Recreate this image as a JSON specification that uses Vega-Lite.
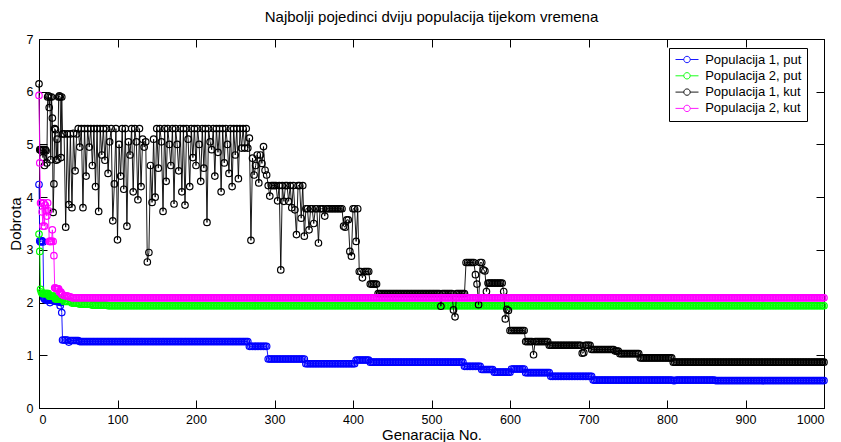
{
"$schema": "https://vega.github.io/schema/vega-lite/v6.json",
"width": 785, "height": 369,
"autosize": {"type": "none"},
"padding": {"left": 39, "top": 39, "right": 17, "bottom": 34},
"background": "white",
"title": {"text": "Najbolji pojedinci dviju populacija tijekom vremena", "fontSize": 15, "fontWeight": "normal", "font": "Liberation Sans", "color": "black", "anchor": "middle", "baseline": "alphabetic", "offset": -4},
"config": {
  "font": "Liberation Sans",
  "view": {"stroke": "black", "strokeWidth": 1},
  "axis": {"grid": false, "domainColor": "black", "tickColor": "black", "labelColor": "black", "titleColor": "black", "labelFontSize": 12.5, "titleFontSize": 15, "titleFontWeight": "normal", "tickSize": -8, "domainWidth": 1, "tickWidth": 1, "labelFont": "Liberation Sans", "titleFont": "Liberation Sans"}
},
"datasets": {
"blue": [{"g":0,"v":4.24},{"g":1,"v":3.17},{"g":2,"v":3.15},{"g":3,"v":3.17},{"g":4,"v":3.17},{"g":5,"v":3.15},{"g":6,"v":2.09},{"g":7,"v":2.07},{"g":8,"v":2.06},{"g":9,"v":2.05},{"g":10,"v":2.05},{"g":11,"v":2.05},{"g":12,"v":2.05},{"g":13,"v":2.05},{"g":14,"v":2.0},{"g":15,"v":2.05},{"g":16,"v":2.05},{"g":17,"v":2.05},{"g":18,"v":2.04},{"g":19,"v":2.03},{"g":20,"v":2.03},{"g":21,"v":2.03},{"g":22,"v":2.02},{"g":23,"v":2.02},{"g":24,"v":2.02},{"g":25,"v":2.02},{"g":26,"v":2.01},{"g":27,"v":1.94},{"g":28,"v":2.0},{"g":29,"v":1.81},{"g":30,"v":1.29},
{"g":32,"v":1.29},{"g":34,"v":1.29},{"g":36,"v":1.29},{"g":38,"v":1.25},{"g":40,"v":1.28},{"g":42,"v":1.28},{"g":44,"v":1.28},{"g":46,"v":1.28},{"g":48,"v":1.28},{"g":50,"v":1.28},
{"g":52,"v":1.26},{"g":54,"v":1.26},{"g":56,"v":1.26},{"g":58,"v":1.26},{"g":60,"v":1.26},{"g":62,"v":1.26},{"g":64,"v":1.26},{"g":66,"v":1.26},{"g":68,"v":1.26},{"g":70,"v":1.26},{"g":72,"v":1.26},{"g":74,"v":1.26},{"g":76,"v":1.26},{"g":78,"v":1.26},{"g":80,"v":1.26},{"g":82,"v":1.26},{"g":84,"v":1.26},{"g":86,"v":1.26},{"g":88,"v":1.26},{"g":90,"v":1.26},{"g":92,"v":1.26},{"g":94,"v":1.26},{"g":96,"v":1.26},{"g":98,"v":1.26},{"g":100,"v":1.26},{"g":102,"v":1.26},{"g":104,"v":1.26},{"g":106,"v":1.26},{"g":108,"v":1.26},{"g":110,"v":1.26},{"g":112,"v":1.26},{"g":114,"v":1.26},{"g":116,"v":1.26},{"g":118,"v":1.26},{"g":120,"v":1.26},{"g":122,"v":1.26},{"g":124,"v":1.26},{"g":126,"v":1.26},{"g":128,"v":1.26},{"g":130,"v":1.26},{"g":132,"v":1.26},{"g":134,"v":1.26},{"g":136,"v":1.26},{"g":138,"v":1.26},{"g":140,"v":1.26},{"g":142,"v":1.26},{"g":144,"v":1.26},{"g":146,"v":1.26},{"g":148,"v":1.26},{"g":150,"v":1.26},{"g":152,"v":1.26},{"g":154,"v":1.26},{"g":156,"v":1.26},{"g":158,"v":1.26},{"g":160,"v":1.26},{"g":162,"v":1.26},{"g":164,"v":1.26},{"g":166,"v":1.26},{"g":168,"v":1.26},{"g":170,"v":1.26},{"g":172,"v":1.26},{"g":174,"v":1.26},{"g":176,"v":1.26},{"g":178,"v":1.26},{"g":180,"v":1.26},{"g":182,"v":1.26},{"g":184,"v":1.26},{"g":186,"v":1.26},{"g":188,"v":1.26},{"g":190,"v":1.26},{"g":192,"v":1.26},{"g":194,"v":1.26},{"g":196,"v":1.26},{"g":198,"v":1.26},{"g":200,"v":1.26},{"g":202,"v":1.26},{"g":204,"v":1.26},{"g":206,"v":1.26},{"g":208,"v":1.26},{"g":210,"v":1.26},{"g":212,"v":1.26},{"g":214,"v":1.26},{"g":216,"v":1.26},{"g":218,"v":1.26},{"g":220,"v":1.26},{"g":222,"v":1.26},{"g":224,"v":1.26},{"g":226,"v":1.26},{"g":228,"v":1.26},{"g":230,"v":1.26},{"g":232,"v":1.26},{"g":234,"v":1.26},{"g":236,"v":1.26},{"g":238,"v":1.26},{"g":240,"v":1.26},{"g":242,"v":1.26},{"g":244,"v":1.26},{"g":246,"v":1.26},{"g":248,"v":1.26},{"g":250,"v":1.26},{"g":252,"v":1.26},{"g":254,"v":1.26},{"g":256,"v":1.26},{"g":258,"v":1.26},{"g":260,"v":1.26},{"g":262,"v":1.26},{"g":264,"v":1.26},{"g":266,"v":1.26},
{"g":268,"v":1.17},{"g":270,"v":1.17},{"g":272,"v":1.17},{"g":274,"v":1.17},{"g":276,"v":1.17},{"g":278,"v":1.17},{"g":280,"v":1.17},{"g":282,"v":1.17},{"g":284,"v":1.17},{"g":286,"v":1.17},{"g":288,"v":1.17},{"g":290,"v":1.17},
{"g":292,"v":0.93},{"g":294,"v":0.93},{"g":296,"v":0.93},{"g":298,"v":0.93},{"g":300,"v":0.93},{"g":302,"v":0.93},{"g":304,"v":0.93},{"g":306,"v":0.93},{"g":308,"v":0.93},{"g":310,"v":0.93},{"g":312,"v":0.93},{"g":314,"v":0.93},{"g":316,"v":0.93},{"g":318,"v":0.93},{"g":320,"v":0.93},{"g":322,"v":0.93},{"g":324,"v":0.93},{"g":326,"v":0.93},{"g":328,"v":0.93},{"g":330,"v":0.93},{"g":332,"v":0.93},{"g":334,"v":0.93},{"g":336,"v":0.93},{"g":338,"v":0.93},
{"g":340,"v":0.84},{"g":342,"v":0.84},{"g":344,"v":0.84},{"g":346,"v":0.84},{"g":348,"v":0.84},{"g":350,"v":0.84},{"g":352,"v":0.84},{"g":354,"v":0.84},{"g":356,"v":0.84},{"g":358,"v":0.84},{"g":360,"v":0.84},{"g":362,"v":0.84},{"g":364,"v":0.84},{"g":366,"v":0.84},{"g":368,"v":0.84},{"g":370,"v":0.84},{"g":372,"v":0.84},{"g":374,"v":0.84},{"g":376,"v":0.84},{"g":378,"v":0.84},{"g":380,"v":0.84},{"g":382,"v":0.84},{"g":384,"v":0.84},{"g":386,"v":0.84},{"g":388,"v":0.84},{"g":390,"v":0.84},{"g":392,"v":0.84},{"g":394,"v":0.84},{"g":396,"v":0.84},{"g":398,"v":0.84},{"g":400,"v":0.84},{"g":402,"v":0.84},
{"g":404,"v":0.91},{"g":406,"v":0.91},{"g":408,"v":0.91},{"g":410,"v":0.91},{"g":412,"v":0.91},{"g":414,"v":0.91},{"g":416,"v":0.91},{"g":418,"v":0.91},{"g":420,"v":0.91},
{"g":422,"v":0.87},{"g":424,"v":0.87},{"g":426,"v":0.87},{"g":428,"v":0.87},{"g":430,"v":0.87},{"g":432,"v":0.87},{"g":434,"v":0.87},{"g":436,"v":0.87},{"g":438,"v":0.87},{"g":440,"v":0.87},{"g":442,"v":0.87},{"g":444,"v":0.87},{"g":446,"v":0.87},{"g":448,"v":0.87},{"g":450,"v":0.87},{"g":452,"v":0.87},{"g":454,"v":0.87},{"g":456,"v":0.87},{"g":458,"v":0.87},{"g":460,"v":0.87},{"g":462,"v":0.87},{"g":464,"v":0.87},{"g":466,"v":0.87},{"g":468,"v":0.87},{"g":470,"v":0.87},{"g":472,"v":0.87},{"g":474,"v":0.87},{"g":476,"v":0.87},{"g":478,"v":0.87},{"g":480,"v":0.87},{"g":482,"v":0.87},{"g":484,"v":0.87},{"g":486,"v":0.87},{"g":488,"v":0.87},{"g":490,"v":0.87},{"g":492,"v":0.87},{"g":494,"v":0.87},{"g":496,"v":0.87},{"g":498,"v":0.87},{"g":500,"v":0.87},{"g":502,"v":0.87},{"g":504,"v":0.87},{"g":506,"v":0.87},{"g":508,"v":0.87},{"g":510,"v":0.87},{"g":512,"v":0.87},{"g":514,"v":0.87},{"g":516,"v":0.87},{"g":518,"v":0.87},{"g":520,"v":0.87},{"g":522,"v":0.87},{"g":524,"v":0.87},{"g":526,"v":0.87},{"g":528,"v":0.87},{"g":530,"v":0.87},{"g":532,"v":0.87},{"g":534,"v":0.87},{"g":536,"v":0.87},{"g":538,"v":0.87},{"g":540,"v":0.87},
{"g":542,"v":0.79},{"g":544,"v":0.79},{"g":546,"v":0.79},{"g":548,"v":0.79},{"g":550,"v":0.79},{"g":552,"v":0.79},{"g":554,"v":0.79},{"g":556,"v":0.79},{"g":558,"v":0.79},{"g":560,"v":0.79},{"g":562,"v":0.79},
{"g":564,"v":0.73},{"g":566,"v":0.73},{"g":568,"v":0.73},{"g":570,"v":0.73},{"g":572,"v":0.73},{"g":574,"v":0.73},{"g":576,"v":0.73},{"g":578,"v":0.73},
{"g":580,"v":0.68},{"g":582,"v":0.68},{"g":584,"v":0.68},{"g":586,"v":0.68},{"g":588,"v":0.68},{"g":590,"v":0.68},{"g":592,"v":0.68},{"g":594,"v":0.68},{"g":596,"v":0.68},{"g":598,"v":0.68},{"g":600,"v":0.68},
{"g":602,"v":0.74},{"g":604,"v":0.74},{"g":606,"v":0.74},{"g":608,"v":0.74},{"g":610,"v":0.74},{"g":612,"v":0.74},{"g":614,"v":0.74},{"g":616,"v":0.74},{"g":618,"v":0.74},
{"g":620,"v":0.67},{"g":622,"v":0.67},{"g":624,"v":0.67},{"g":626,"v":0.67},{"g":628,"v":0.67},{"g":630,"v":0.67},{"g":632,"v":0.67},{"g":634,"v":0.67},{"g":636,"v":0.67},{"g":638,"v":0.67},{"g":640,"v":0.67},{"g":642,"v":0.67},{"g":644,"v":0.67},{"g":646,"v":0.67},{"g":648,"v":0.67},{"g":650,"v":0.67},
{"g":652,"v":0.6},{"g":654,"v":0.6},{"g":656,"v":0.6},{"g":658,"v":0.6},{"g":660,"v":0.6},{"g":662,"v":0.6},{"g":664,"v":0.6},{"g":666,"v":0.6},{"g":668,"v":0.6},{"g":670,"v":0.6},{"g":672,"v":0.6},{"g":674,"v":0.6},{"g":676,"v":0.6},{"g":678,"v":0.6},{"g":680,"v":0.6},{"g":682,"v":0.6},{"g":684,"v":0.6},{"g":686,"v":0.6},{"g":688,"v":0.6},{"g":690,"v":0.6},{"g":692,"v":0.6},{"g":694,"v":0.6},{"g":696,"v":0.6},{"g":698,"v":0.6},{"g":700,"v":0.6},{"g":702,"v":0.6},{"g":704,"v":0.6},
{"g":706,"v":0.53},{"g":708,"v":0.53},{"g":710,"v":0.53},{"g":712,"v":0.53},{"g":714,"v":0.53},{"g":716,"v":0.53},{"g":718,"v":0.53},{"g":720,"v":0.53},{"g":722,"v":0.53},{"g":724,"v":0.53},{"g":726,"v":0.53},{"g":728,"v":0.53},{"g":730,"v":0.53},{"g":732,"v":0.53},{"g":734,"v":0.53},{"g":736,"v":0.53},{"g":738,"v":0.53},{"g":740,"v":0.53},{"g":742,"v":0.53},{"g":744,"v":0.53},{"g":746,"v":0.53},{"g":748,"v":0.53},{"g":750,"v":0.53},{"g":752,"v":0.53},{"g":754,"v":0.53},{"g":756,"v":0.53},{"g":758,"v":0.53},{"g":760,"v":0.53},{"g":762,"v":0.53},{"g":764,"v":0.53},{"g":766,"v":0.53},{"g":768,"v":0.53},{"g":770,"v":0.53},{"g":772,"v":0.53},{"g":774,"v":0.53},{"g":776,"v":0.53},{"g":778,"v":0.53},{"g":780,"v":0.53},{"g":782,"v":0.53},{"g":784,"v":0.53},{"g":786,"v":0.53},{"g":788,"v":0.53},{"g":790,"v":0.53},{"g":792,"v":0.53},{"g":794,"v":0.53},{"g":796,"v":0.53},{"g":798,"v":0.53},{"g":800,"v":0.53},{"g":802,"v":0.53},{"g":804,"v":0.53},{"g":806,"v":0.53},{"g":808,"v":0.52},{"g":810,"v":0.52},{"g":812,"v":0.53},{"g":814,"v":0.53},{"g":816,"v":0.53},{"g":818,"v":0.53},{"g":820,"v":0.53},{"g":822,"v":0.53},{"g":824,"v":0.53},{"g":826,"v":0.53},{"g":828,"v":0.53},{"g":830,"v":0.53},{"g":832,"v":0.53},{"g":834,"v":0.53},{"g":836,"v":0.53},{"g":838,"v":0.53},{"g":840,"v":0.53},{"g":842,"v":0.53},{"g":844,"v":0.53},{"g":846,"v":0.53},{"g":848,"v":0.53},{"g":850,"v":0.53},{"g":852,"v":0.53},{"g":854,"v":0.53},{"g":856,"v":0.53},{"g":858,"v":0.53},{"g":860,"v":0.53},
{"g":862,"v":0.52},{"g":864,"v":0.52},{"g":866,"v":0.52},{"g":868,"v":0.52},{"g":870,"v":0.52},{"g":872,"v":0.52},{"g":874,"v":0.52},{"g":876,"v":0.52},{"g":878,"v":0.52},{"g":880,"v":0.52},{"g":882,"v":0.52},{"g":884,"v":0.52},{"g":886,"v":0.52},{"g":888,"v":0.52},{"g":890,"v":0.52},{"g":892,"v":0.52},{"g":894,"v":0.52},{"g":896,"v":0.52},{"g":898,"v":0.52},{"g":900,"v":0.52},{"g":902,"v":0.52},{"g":904,"v":0.52},{"g":906,"v":0.52},{"g":908,"v":0.52},{"g":910,"v":0.52},{"g":912,"v":0.52},{"g":914,"v":0.52},{"g":916,"v":0.52},{"g":918,"v":0.52},{"g":920,"v":0.52},{"g":922,"v":0.52},{"g":924,"v":0.52},{"g":926,"v":0.52},{"g":928,"v":0.52},{"g":930,"v":0.52},{"g":932,"v":0.52},{"g":934,"v":0.52},{"g":936,"v":0.52},{"g":938,"v":0.52},{"g":940,"v":0.52},{"g":942,"v":0.52},{"g":944,"v":0.52},{"g":946,"v":0.52},{"g":948,"v":0.52},{"g":950,"v":0.52},{"g":952,"v":0.52},{"g":954,"v":0.52},{"g":956,"v":0.52},{"g":958,"v":0.52},{"g":960,"v":0.52},{"g":962,"v":0.52},{"g":964,"v":0.52},{"g":966,"v":0.52},{"g":968,"v":0.52},{"g":970,"v":0.52},{"g":972,"v":0.52},{"g":974,"v":0.52},{"g":976,"v":0.52},{"g":978,"v":0.52},{"g":980,"v":0.52},{"g":982,"v":0.52},{"g":984,"v":0.52},{"g":986,"v":0.52},{"g":988,"v":0.52},{"g":990,"v":0.52},{"g":992,"v":0.52},{"g":994,"v":0.52},{"g":996,"v":0.52},{"g":998,"v":0.52},{"g":1000,"v":0.52}],
"green": [{"g":0,"v":3.3},{"g":1,"v":2.97},{"g":2,"v":2.25},{"g":3,"v":2.2},{"g":4,"v":2.17},{"g":5,"v":2.17},{"g":6,"v":2.17},{"g":7,"v":2.17},{"g":8,"v":2.17},{"g":9,"v":2.17},{"g":10,"v":2.17},{"g":11,"v":2.17},{"g":12,"v":2.17},{"g":13,"v":2.12},{"g":14,"v":2.12},{"g":15,"v":2.12},{"g":16,"v":2.12},{"g":17,"v":2.12},{"g":18,"v":2.12},{"g":19,"v":2.12},{"g":20,"v":2.12},{"g":21,"v":2.07},{"g":22,"v":2.07},{"g":23,"v":2.07},{"g":24,"v":2.07},{"g":25,"v":2.07},{"g":26,"v":2.07},{"g":27,"v":2.07},{"g":28,"v":2.07},{"g":29,"v":2.07},{"g":30,"v":2.07},
{"g":32,"v":2.02},{"g":34,"v":2.02},{"g":36,"v":2.02},{"g":38,"v":2.02},{"g":40,"v":2.02},{"g":42,"v":1.99},{"g":44,"v":1.99},{"g":46,"v":1.99},{"g":48,"v":1.99},{"g":50,"v":1.99},{"g":52,"v":1.97},{"g":54,"v":1.97},{"g":56,"v":1.97},{"g":58,"v":1.97},{"g":60,"v":1.97},{"g":62,"v":1.97},{"g":64,"v":1.97},{"g":66,"v":1.97},{"g":68,"v":1.95},{"g":70,"v":1.95},{"g":72,"v":1.95},{"g":74,"v":1.95},{"g":76,"v":1.95},{"g":78,"v":1.95},{"g":80,"v":1.95},{"g":82,"v":1.95},{"g":84,"v":1.95},{"g":86,"v":1.95},
{"g":88,"v":1.94},{"g":90,"v":1.94},{"g":92,"v":1.94},{"g":94,"v":1.94},{"g":96,"v":1.94},{"g":98,"v":1.94},{"g":100,"v":1.94},{"g":102,"v":1.94},{"g":104,"v":1.94},{"g":106,"v":1.94},{"g":108,"v":1.94},{"g":110,"v":1.94},{"g":112,"v":1.94},{"g":114,"v":1.94},{"g":116,"v":1.94},{"g":118,"v":1.94},{"g":120,"v":1.94},{"g":122,"v":1.94},{"g":124,"v":1.94},{"g":126,"v":1.94},{"g":128,"v":1.94},{"g":130,"v":1.94},{"g":132,"v":1.94},{"g":134,"v":1.94},{"g":136,"v":1.94},{"g":138,"v":1.94},{"g":140,"v":1.94},{"g":142,"v":1.94},{"g":144,"v":1.94},{"g":146,"v":1.94},{"g":148,"v":1.94},{"g":150,"v":1.94},{"g":152,"v":1.94},{"g":154,"v":1.94},{"g":156,"v":1.94},{"g":158,"v":1.94},{"g":160,"v":1.94},{"g":162,"v":1.94},{"g":164,"v":1.94},{"g":166,"v":1.94},{"g":168,"v":1.94},{"g":170,"v":1.94},{"g":172,"v":1.94},{"g":174,"v":1.94},{"g":176,"v":1.94},{"g":178,"v":1.94},{"g":180,"v":1.94},{"g":182,"v":1.94},{"g":184,"v":1.94},{"g":186,"v":1.94},{"g":188,"v":1.94},{"g":190,"v":1.94},{"g":192,"v":1.94},{"g":194,"v":1.94},{"g":196,"v":1.94},{"g":198,"v":1.94},{"g":200,"v":1.94},{"g":202,"v":1.94},{"g":204,"v":1.94},{"g":206,"v":1.94},{"g":208,"v":1.94},{"g":210,"v":1.94},{"g":212,"v":1.94},{"g":214,"v":1.94},{"g":216,"v":1.94},{"g":218,"v":1.94},{"g":220,"v":1.94},{"g":222,"v":1.94},{"g":224,"v":1.94},{"g":226,"v":1.94},{"g":228,"v":1.94},{"g":230,"v":1.94},{"g":232,"v":1.94},{"g":234,"v":1.94},{"g":236,"v":1.94},{"g":238,"v":1.94},{"g":240,"v":1.94},{"g":242,"v":1.94},{"g":244,"v":1.94},{"g":246,"v":1.94},{"g":248,"v":1.94},{"g":250,"v":1.94},{"g":252,"v":1.94},{"g":254,"v":1.94},{"g":256,"v":1.94},{"g":258,"v":1.94},{"g":260,"v":1.94},{"g":262,"v":1.94},{"g":264,"v":1.94},{"g":266,"v":1.94},{"g":268,"v":1.94},{"g":270,"v":1.94},{"g":272,"v":1.94},{"g":274,"v":1.94},{"g":276,"v":1.94},{"g":278,"v":1.94},{"g":280,"v":1.94},{"g":282,"v":1.94},{"g":284,"v":1.94},{"g":286,"v":1.94},{"g":288,"v":1.94},{"g":290,"v":1.94},{"g":292,"v":1.94},{"g":294,"v":1.94},{"g":296,"v":1.94},{"g":298,"v":1.94},{"g":300,"v":1.94},{"g":302,"v":1.94},{"g":304,"v":1.94},{"g":306,"v":1.94},{"g":308,"v":1.94},{"g":310,"v":1.94},{"g":312,"v":1.94},{"g":314,"v":1.94},{"g":316,"v":1.94},{"g":318,"v":1.94},{"g":320,"v":1.94},{"g":322,"v":1.94},{"g":324,"v":1.94},{"g":326,"v":1.94},{"g":328,"v":1.94},{"g":330,"v":1.94},{"g":332,"v":1.94},{"g":334,"v":1.94},{"g":336,"v":1.94},{"g":338,"v":1.94},{"g":340,"v":1.94},{"g":342,"v":1.94},{"g":344,"v":1.94},{"g":346,"v":1.94},{"g":348,"v":1.94},{"g":350,"v":1.94},{"g":352,"v":1.94},{"g":354,"v":1.94},{"g":356,"v":1.94},{"g":358,"v":1.94},{"g":360,"v":1.94},{"g":362,"v":1.94},{"g":364,"v":1.94},{"g":366,"v":1.94},{"g":368,"v":1.94},{"g":370,"v":1.94},{"g":372,"v":1.94},{"g":374,"v":1.94},{"g":376,"v":1.94},{"g":378,"v":1.94},{"g":380,"v":1.94},{"g":382,"v":1.94},{"g":384,"v":1.94},{"g":386,"v":1.94},{"g":388,"v":1.94},{"g":390,"v":1.94},{"g":392,"v":1.94},{"g":394,"v":1.94},{"g":396,"v":1.94},{"g":398,"v":1.94},{"g":400,"v":1.94},{"g":402,"v":1.94},{"g":404,"v":1.94},{"g":406,"v":1.94},{"g":408,"v":1.94},{"g":410,"v":1.94},{"g":412,"v":1.94},{"g":414,"v":1.94},{"g":416,"v":1.94},{"g":418,"v":1.94},{"g":420,"v":1.94},{"g":422,"v":1.94},{"g":424,"v":1.94},{"g":426,"v":1.94},{"g":428,"v":1.94},{"g":430,"v":1.94},{"g":432,"v":1.94},{"g":434,"v":1.94},{"g":436,"v":1.94},{"g":438,"v":1.94},{"g":440,"v":1.94},{"g":442,"v":1.94},{"g":444,"v":1.94},{"g":446,"v":1.94},{"g":448,"v":1.94},{"g":450,"v":1.94},{"g":452,"v":1.94},{"g":454,"v":1.94},{"g":456,"v":1.94},{"g":458,"v":1.94},{"g":460,"v":1.94},{"g":462,"v":1.94},{"g":464,"v":1.94},{"g":466,"v":1.94},{"g":468,"v":1.94},{"g":470,"v":1.94},{"g":472,"v":1.94},{"g":474,"v":1.94},{"g":476,"v":1.94},{"g":478,"v":1.94},{"g":480,"v":1.94},{"g":482,"v":1.94},{"g":484,"v":1.94},{"g":486,"v":1.94},{"g":488,"v":1.94},{"g":490,"v":1.94},{"g":492,"v":1.94},{"g":494,"v":1.94},{"g":496,"v":1.94},{"g":498,"v":1.94},{"g":500,"v":1.94},{"g":502,"v":1.94},{"g":504,"v":1.94},{"g":506,"v":1.94},{"g":508,"v":1.94},{"g":510,"v":1.94},{"g":512,"v":1.94},{"g":514,"v":1.94},{"g":516,"v":1.94},{"g":518,"v":1.94},{"g":520,"v":1.94},{"g":522,"v":1.94},{"g":524,"v":1.94},{"g":526,"v":1.94},{"g":528,"v":1.94},{"g":530,"v":1.94},{"g":532,"v":1.94},{"g":534,"v":1.94},{"g":536,"v":1.94},{"g":538,"v":1.94},{"g":540,"v":1.94},{"g":542,"v":1.94},{"g":544,"v":1.94},{"g":546,"v":1.94},{"g":548,"v":1.94},{"g":550,"v":1.94},{"g":552,"v":1.94},{"g":554,"v":1.94},{"g":556,"v":1.94},{"g":558,"v":1.94},{"g":560,"v":1.94},{"g":562,"v":1.94},{"g":564,"v":1.94},{"g":566,"v":1.94},{"g":568,"v":1.94},{"g":570,"v":1.94},{"g":572,"v":1.94},{"g":574,"v":1.94},{"g":576,"v":1.94},{"g":578,"v":1.94},{"g":580,"v":1.94},{"g":582,"v":1.94},{"g":584,"v":1.94},{"g":586,"v":1.94},{"g":588,"v":1.94},{"g":590,"v":1.94},{"g":592,"v":1.94},{"g":594,"v":1.94},{"g":596,"v":1.94},{"g":598,"v":1.94},{"g":600,"v":1.94},{"g":602,"v":1.94},{"g":604,"v":1.94},{"g":606,"v":1.94},{"g":608,"v":1.94},{"g":610,"v":1.94},{"g":612,"v":1.94},{"g":614,"v":1.94},{"g":616,"v":1.94},{"g":618,"v":1.94},{"g":620,"v":1.94},{"g":622,"v":1.94},{"g":624,"v":1.94},{"g":626,"v":1.94},{"g":628,"v":1.94},{"g":630,"v":1.94},{"g":632,"v":1.94},{"g":634,"v":1.94},{"g":636,"v":1.94},{"g":638,"v":1.94},{"g":640,"v":1.94},{"g":642,"v":1.94},{"g":644,"v":1.94},{"g":646,"v":1.94},{"g":648,"v":1.94},{"g":650,"v":1.94},{"g":652,"v":1.94},{"g":654,"v":1.94},{"g":656,"v":1.94},{"g":658,"v":1.94},{"g":660,"v":1.94},{"g":662,"v":1.94},{"g":664,"v":1.94},{"g":666,"v":1.94},{"g":668,"v":1.94},{"g":670,"v":1.94},{"g":672,"v":1.94},{"g":674,"v":1.94},{"g":676,"v":1.94},{"g":678,"v":1.94},{"g":680,"v":1.94},{"g":682,"v":1.94},{"g":684,"v":1.94},{"g":686,"v":1.94},{"g":688,"v":1.94},{"g":690,"v":1.94},{"g":692,"v":1.94},{"g":694,"v":1.94},{"g":696,"v":1.94},{"g":698,"v":1.94},{"g":700,"v":1.94},{"g":702,"v":1.94},{"g":704,"v":1.94},{"g":706,"v":1.94},{"g":708,"v":1.94},{"g":710,"v":1.94},{"g":712,"v":1.94},{"g":714,"v":1.94},{"g":716,"v":1.94},{"g":718,"v":1.94},{"g":720,"v":1.94},{"g":722,"v":1.94},{"g":724,"v":1.94},{"g":726,"v":1.94},{"g":728,"v":1.94},{"g":730,"v":1.94},{"g":732,"v":1.94},{"g":734,"v":1.94},{"g":736,"v":1.94},{"g":738,"v":1.94},{"g":740,"v":1.94},{"g":742,"v":1.94},{"g":744,"v":1.94},{"g":746,"v":1.94},{"g":748,"v":1.94},{"g":750,"v":1.94},{"g":752,"v":1.94},{"g":754,"v":1.94},{"g":756,"v":1.94},{"g":758,"v":1.94},{"g":760,"v":1.94},{"g":762,"v":1.94},{"g":764,"v":1.94},{"g":766,"v":1.94},{"g":768,"v":1.94},{"g":770,"v":1.94},{"g":772,"v":1.94},{"g":774,"v":1.94},{"g":776,"v":1.94},{"g":778,"v":1.94},{"g":780,"v":1.94},{"g":782,"v":1.94},{"g":784,"v":1.94},{"g":786,"v":1.94},{"g":788,"v":1.94},{"g":790,"v":1.94},{"g":792,"v":1.94},{"g":794,"v":1.94},{"g":796,"v":1.94},{"g":798,"v":1.94},{"g":800,"v":1.94},{"g":802,"v":1.94},{"g":804,"v":1.94},{"g":806,"v":1.94},{"g":808,"v":1.94},{"g":810,"v":1.94},{"g":812,"v":1.94},{"g":814,"v":1.94},{"g":816,"v":1.94},{"g":818,"v":1.94},{"g":820,"v":1.94},{"g":822,"v":1.94},{"g":824,"v":1.94},{"g":826,"v":1.94},{"g":828,"v":1.94},{"g":830,"v":1.94},{"g":832,"v":1.94},{"g":834,"v":1.94},{"g":836,"v":1.94},{"g":838,"v":1.94},{"g":840,"v":1.94},{"g":842,"v":1.94},{"g":844,"v":1.94},{"g":846,"v":1.94},{"g":848,"v":1.94},{"g":850,"v":1.94},{"g":852,"v":1.94},{"g":854,"v":1.94},{"g":856,"v":1.94},{"g":858,"v":1.94},{"g":860,"v":1.94},{"g":862,"v":1.94},{"g":864,"v":1.94},{"g":866,"v":1.94},{"g":868,"v":1.94},{"g":870,"v":1.94},{"g":872,"v":1.94},{"g":874,"v":1.94},{"g":876,"v":1.94},{"g":878,"v":1.94},{"g":880,"v":1.94},{"g":882,"v":1.94},{"g":884,"v":1.94},{"g":886,"v":1.94},{"g":888,"v":1.94},{"g":890,"v":1.94},{"g":892,"v":1.94},{"g":894,"v":1.94},{"g":896,"v":1.94},{"g":898,"v":1.94},{"g":900,"v":1.94},{"g":902,"v":1.94},{"g":904,"v":1.94},{"g":906,"v":1.94},{"g":908,"v":1.94},{"g":910,"v":1.94},{"g":912,"v":1.94},{"g":914,"v":1.94},{"g":916,"v":1.94},{"g":918,"v":1.94},{"g":920,"v":1.94},{"g":922,"v":1.94},{"g":924,"v":1.94},{"g":926,"v":1.94},{"g":928,"v":1.94},{"g":930,"v":1.94},{"g":932,"v":1.94},{"g":934,"v":1.94},{"g":936,"v":1.94},{"g":938,"v":1.94},{"g":940,"v":1.94},{"g":942,"v":1.94},{"g":944,"v":1.94},{"g":946,"v":1.94},{"g":948,"v":1.94},{"g":950,"v":1.94},{"g":952,"v":1.94},{"g":954,"v":1.94},{"g":956,"v":1.94},{"g":958,"v":1.94},{"g":960,"v":1.94},{"g":962,"v":1.94},{"g":964,"v":1.94},{"g":966,"v":1.94},{"g":968,"v":1.94},{"g":970,"v":1.94},{"g":972,"v":1.94},{"g":974,"v":1.94},{"g":976,"v":1.94},{"g":978,"v":1.94},{"g":980,"v":1.94},{"g":982,"v":1.94},{"g":984,"v":1.94},{"g":986,"v":1.94},{"g":988,"v":1.94},{"g":990,"v":1.94},{"g":992,"v":1.94},{"g":994,"v":1.94},{"g":996,"v":1.94},{"g":998,"v":1.94},{"g":1000,"v":1.94}],
"black": [{"g":0,"v":6.15},{"g":1,"v":4.9},{"g":2,"v":4.9},{"g":3,"v":4.88},{"g":4,"v":4.9},{"g":5,"v":4.75},{"g":6,"v":4.9},{"g":7,"v":4.6},{"g":8,"v":4.9},{"g":9,"v":4.88},{"g":10,"v":4.65},{"g":11,"v":5.9},{"g":12,"v":5.92},{"g":13,"v":5.7},{"g":14,"v":5.9},{"g":15,"v":4.71},{"g":16,"v":5.9},{"g":17,"v":5.5},{"g":18,"v":3.71},{"g":19,"v":4.25},{"g":20,"v":5.3},{"g":21,"v":5.28},{"g":22,"v":4.7},{"g":23,"v":5.1},{"g":24,"v":4.72},{"g":25,"v":5.9},{"g":26,"v":5.92},{"g":27,"v":5.9},{"g":28,"v":4.75},{"g":29,"v":5.9},{"g":30,"v":5.2},
{"g":32,"v":5.2},{"g":34,"v":3.43},{"g":36,"v":5.2},{"g":38,"v":3.86},{"g":40,"v":5.2},{"g":42,"v":3.8},{"g":44,"v":5.21},{"g":46,"v":4.5},{"g":48,"v":5.2},{"g":50,"v":5.3},{"g":52,"v":4.95},{"g":54,"v":5.3},{"g":56,"v":3.8},{"g":58,"v":5.3},{"g":60,"v":4.4},{"g":62,"v":5.3},{"g":64,"v":4.95},{"g":66,"v":5.3},{"g":68,"v":4.6},{"g":70,"v":5.3},{"g":72,"v":4.2},{"g":74,"v":5.3},{"g":76,"v":3.73},{"g":78,"v":5.3},{"g":80,"v":4.8},{"g":82,"v":5.3},{"g":84,"v":4.7},{"g":86,"v":5.3},{"g":88,"v":4.45},{"g":90,"v":5.05},{"g":92,"v":5.3},{"g":94,"v":3.55},{"g":96,"v":4.25},{"g":98,"v":5.3},{"g":100,"v":3.19},{"g":102,"v":5.0},{"g":104,"v":4.4},{"g":106,"v":5.3},{"g":108,"v":4.15},{"g":110,"v":5.3},{"g":112,"v":3.45},{"g":114,"v":5.05},{"g":116,"v":4.8},{"g":118,"v":5.3},{"g":120,"v":4.1},{"g":122,"v":5.3},{"g":124,"v":5.05},{"g":126,"v":3.95},{"g":128,"v":5.3},{"g":130,"v":4.2},{"g":132,"v":5.1},{"g":134,"v":4.95},{"g":136,"v":5.05},{"g":138,"v":2.77},{"g":140,"v":2.95},{"g":142,"v":4.6},{"g":144,"v":3.9},{"g":146,"v":5.1},{"g":148,"v":4.0},{"g":150,"v":5.3},{"g":152,"v":4.55},{"g":154,"v":5.3},{"g":156,"v":5.05},{"g":158,"v":3.73},{"g":160,"v":5.3},{"g":162,"v":4.3},{"g":164,"v":5.3},{"g":166,"v":5.0},{"g":168,"v":4.6},{"g":170,"v":5.3},{"g":172,"v":3.87},{"g":174,"v":5.3},{"g":176,"v":5.0},{"g":178,"v":4.5},{"g":180,"v":5.3},{"g":182,"v":4.1},{"g":184,"v":5.3},{"g":186,"v":3.85},{"g":188,"v":5.3},{"g":190,"v":5.1},{"g":192,"v":4.2},{"g":194,"v":5.3},{"g":196,"v":4.75},{"g":198,"v":5.3},{"g":200,"v":4.6},{"g":202,"v":5.3},{"g":204,"v":5.0},{"g":206,"v":4.3},{"g":208,"v":5.3},{"g":210,"v":4.55},{"g":212,"v":5.3},{"g":214,"v":3.52},{"g":216,"v":5.3},{"g":218,"v":5.05},{"g":220,"v":4.9},{"g":222,"v":5.3},{"g":224,"v":4.4},{"g":226,"v":5.3},{"g":228,"v":4.85},{"g":230,"v":5.3},{"g":232,"v":4.1},{"g":234,"v":5.3},{"g":236,"v":4.65},{"g":238,"v":5.3},{"g":240,"v":5.0},{"g":242,"v":4.45},{"g":244,"v":5.3},{"g":246,"v":4.2},{"g":248,"v":5.3},{"g":250,"v":4.8},{"g":252,"v":5.3},{"g":254,"v":4.35},{"g":256,"v":5.3},{"g":258,"v":4.93},{"g":260,"v":5.3},{"g":262,"v":4.93},{"g":264,"v":5.3},{"g":266,"v":4.93},{"g":268,"v":5.12},{"g":270,"v":3.18},{"g":272,"v":4.74},{"g":274,"v":4.42},{"g":276,"v":4.6},{"g":278,"v":4.8},{"g":280,"v":4.27},{"g":282,"v":4.8},{"g":284,"v":4.64},{"g":286,"v":4.96},{"g":288,"v":4.51},{"g":290,"v":4.42},{"g":292,"v":4.22},{"g":294,"v":4.02},{"g":296,"v":4.22},{"g":298,"v":4.22},{"g":300,"v":4.22},
{"g":302,"v":4.22},{"g":304,"v":3.93},{"g":306,"v":4.22},{"g":308,"v":2.62},{"g":310,"v":4.22},{"g":312,"v":3.92},{"g":314,"v":4.22},{"g":316,"v":4.22},{"g":318,"v":3.92},{"g":320,"v":4.22},{"g":322,"v":3.8},{"g":324,"v":4.22},{"g":326,"v":3.76},{"g":328,"v":3.29},{"g":330,"v":4.22},{"g":332,"v":4.22},{"g":334,"v":3.6},{"g":336,"v":4.22},{"g":338,"v":3.26},{"g":340,"v":3.78},{"g":342,"v":3.78},{"g":344,"v":3.38},{"g":346,"v":3.78},{"g":348,"v":3.78},{"g":350,"v":3.5},{"g":352,"v":3.78},{"g":354,"v":3.78},{"g":356,"v":3.13},{"g":358,"v":3.78},{"g":360,"v":3.78},{"g":362,"v":3.78},{"g":364,"v":3.64},{"g":366,"v":3.78},{"g":368,"v":3.78},{"g":370,"v":3.78},{"g":372,"v":3.78},{"g":374,"v":3.78},{"g":376,"v":3.78},{"g":378,"v":3.78},{"g":380,"v":3.78},{"g":382,"v":3.78},{"g":384,"v":3.78},{"g":386,"v":3.78},{"g":388,"v":3.45},{"g":390,"v":3.43},{"g":392,"v":3.57},{"g":394,"v":3.57},{"g":396,"v":2.97},{"g":398,"v":2.88},{"g":400,"v":3.78},{"g":402,"v":3.78},{"g":404,"v":3.16},{"g":406,"v":3.78},{"g":408,"v":2.59},{"g":410,"v":2.59},{"g":412,"v":2.47},{"g":414,"v":2.59},{"g":416,"v":2.59},{"g":418,"v":2.59},{"g":420,"v":2.59},{"g":422,"v":2.35},{"g":424,"v":2.35},{"g":426,"v":2.35},{"g":428,"v":2.35},{"g":430,"v":2.35},
{"g":432,"v":2.17},{"g":434,"v":2.17},{"g":436,"v":2.17},{"g":438,"v":2.17},{"g":440,"v":2.17},{"g":442,"v":2.17},{"g":444,"v":2.17},{"g":446,"v":2.17},{"g":448,"v":2.17},{"g":450,"v":2.17},{"g":452,"v":2.17},{"g":454,"v":2.17},{"g":456,"v":2.17},{"g":458,"v":2.17},{"g":460,"v":2.17},{"g":462,"v":2.17},{"g":464,"v":2.17},{"g":466,"v":2.17},{"g":468,"v":2.17},{"g":470,"v":2.17},{"g":472,"v":2.17},{"g":474,"v":2.17},{"g":476,"v":2.17},{"g":478,"v":2.17},{"g":480,"v":2.17},{"g":482,"v":2.17},{"g":484,"v":2.17},{"g":486,"v":2.17},{"g":488,"v":2.17},{"g":490,"v":2.17},{"g":492,"v":2.17},{"g":494,"v":2.17},{"g":496,"v":2.17},{"g":498,"v":2.17},{"g":500,"v":2.17},{"g":502,"v":2.17},{"g":504,"v":2.17},{"g":506,"v":2.17},{"g":508,"v":2.17},{"g":510,"v":2.17},{"g":512,"v":1.93},{"g":514,"v":2.17},{"g":516,"v":2.17},{"g":518,"v":2.17},{"g":520,"v":2.17},{"g":522,"v":2.17},{"g":524,"v":2.17},{"g":526,"v":2.17},{"g":528,"v":1.86},{"g":530,"v":1.73},{"g":532,"v":2.17},{"g":534,"v":2.17},{"g":536,"v":2.17},{"g":538,"v":2.17},{"g":540,"v":2.17},{"g":542,"v":2.17},
{"g":544,"v":2.76},{"g":546,"v":2.76},{"g":548,"v":2.76},{"g":550,"v":2.76},{"g":552,"v":2.76},{"g":554,"v":2.76},{"g":556,"v":2.53},{"g":558,"v":2.35},{"g":560,"v":1.96},{"g":562,"v":2.76},{"g":564,"v":2.76},{"g":566,"v":2.62},{"g":568,"v":2.6},{"g":570,"v":2.21},{"g":572,"v":2.37},{"g":574,"v":2.37},{"g":576,"v":2.37},{"g":578,"v":2.37},{"g":580,"v":2.37},{"g":582,"v":2.37},{"g":584,"v":2.37},{"g":586,"v":2.37},{"g":588,"v":2.37},{"g":590,"v":2.37},{"g":592,"v":2.21},{"g":594,"v":1.69},{"g":596,"v":1.87},{"g":598,"v":1.85},
{"g":600,"v":1.47},{"g":602,"v":1.47},{"g":604,"v":1.47},{"g":606,"v":1.47},{"g":608,"v":1.47},{"g":610,"v":1.47},{"g":612,"v":1.47},{"g":614,"v":1.47},{"g":616,"v":1.47},{"g":618,"v":1.47},{"g":620,"v":1.26},{"g":622,"v":1.26},{"g":624,"v":1.26},{"g":626,"v":1.26},{"g":628,"v":1.26},{"g":630,"v":1.01},{"g":632,"v":1.26},{"g":634,"v":1.26},{"g":636,"v":1.26},{"g":638,"v":1.26},{"g":640,"v":1.26},{"g":642,"v":1.26},{"g":644,"v":1.26},{"g":646,"v":1.26},{"g":648,"v":1.26},
{"g":650,"v":1.19},{"g":652,"v":1.19},{"g":654,"v":1.19},{"g":656,"v":1.19},{"g":658,"v":1.19},{"g":660,"v":1.19},{"g":662,"v":1.19},{"g":664,"v":1.19},{"g":666,"v":1.19},{"g":668,"v":1.19},{"g":670,"v":1.19},{"g":672,"v":1.19},{"g":674,"v":1.19},{"g":676,"v":1.19},{"g":678,"v":1.19},{"g":680,"v":1.19},{"g":682,"v":1.19},{"g":684,"v":1.19},{"g":686,"v":1.19},{"g":688,"v":1.19},{"g":690,"v":1.19},{"g":692,"v":1.04},{"g":694,"v":1.05},{"g":696,"v":1.19},{"g":698,"v":1.19},{"g":700,"v":1.19},{"g":702,"v":1.19},
{"g":704,"v":1.11},{"g":706,"v":1.11},{"g":708,"v":1.11},{"g":710,"v":1.11},{"g":712,"v":1.11},{"g":714,"v":1.11},{"g":716,"v":1.11},{"g":718,"v":1.11},{"g":720,"v":1.11},{"g":722,"v":1.11},{"g":724,"v":1.11},{"g":726,"v":1.11},{"g":728,"v":1.11},{"g":730,"v":1.11},{"g":732,"v":1.11},{"g":734,"v":1.08},{"g":736,"v":1.08},{"g":738,"v":1.08},
{"g":740,"v":1.03},{"g":742,"v":1.03},{"g":744,"v":1.03},{"g":746,"v":1.03},{"g":748,"v":1.03},{"g":750,"v":1.03},{"g":752,"v":1.03},{"g":754,"v":1.03},{"g":756,"v":1.03},{"g":758,"v":1.03},{"g":760,"v":1.03},{"g":762,"v":1.03},{"g":764,"v":1.03},
{"g":766,"v":0.95},{"g":768,"v":0.95},{"g":770,"v":0.95},{"g":772,"v":0.95},{"g":774,"v":0.95},{"g":776,"v":0.95},{"g":778,"v":0.95},{"g":780,"v":0.95},{"g":782,"v":0.95},{"g":784,"v":0.95},{"g":786,"v":0.95},{"g":788,"v":0.95},{"g":790,"v":0.95},{"g":792,"v":0.95},{"g":794,"v":0.95},{"g":796,"v":0.95},{"g":798,"v":0.95},{"g":800,"v":0.95},{"g":802,"v":0.95},{"g":804,"v":0.95},{"g":806,"v":0.95},
{"g":808,"v":0.87},{"g":810,"v":0.87},{"g":812,"v":0.87},{"g":814,"v":0.87},{"g":816,"v":0.87},{"g":818,"v":0.87},{"g":820,"v":0.87},{"g":822,"v":0.87},{"g":824,"v":0.87},{"g":826,"v":0.87},{"g":828,"v":0.87},{"g":830,"v":0.87},{"g":832,"v":0.87},{"g":834,"v":0.87},{"g":836,"v":0.87},{"g":838,"v":0.87},{"g":840,"v":0.87},{"g":842,"v":0.87},{"g":844,"v":0.87},{"g":846,"v":0.87},{"g":848,"v":0.87},{"g":850,"v":0.87},{"g":852,"v":0.87},{"g":854,"v":0.87},{"g":856,"v":0.87},{"g":858,"v":0.87},{"g":860,"v":0.87},{"g":862,"v":0.87},{"g":864,"v":0.87},{"g":866,"v":0.87},{"g":868,"v":0.87},{"g":870,"v":0.87},{"g":872,"v":0.87},{"g":874,"v":0.87},{"g":876,"v":0.87},{"g":878,"v":0.87},{"g":880,"v":0.87},{"g":882,"v":0.87},{"g":884,"v":0.87},{"g":886,"v":0.87},{"g":888,"v":0.87},{"g":890,"v":0.87},{"g":892,"v":0.87},{"g":894,"v":0.87},{"g":896,"v":0.87},{"g":898,"v":0.87},{"g":900,"v":0.87},{"g":902,"v":0.87},{"g":904,"v":0.87},{"g":906,"v":0.87},{"g":908,"v":0.87},{"g":910,"v":0.87},{"g":912,"v":0.87},{"g":914,"v":0.87},{"g":916,"v":0.87},{"g":918,"v":0.87},{"g":920,"v":0.87},{"g":922,"v":0.87},{"g":924,"v":0.87},{"g":926,"v":0.87},{"g":928,"v":0.87},{"g":930,"v":0.87},{"g":932,"v":0.87},{"g":934,"v":0.87},{"g":936,"v":0.87},{"g":938,"v":0.87},{"g":940,"v":0.87},{"g":942,"v":0.87},{"g":944,"v":0.87},{"g":946,"v":0.87},{"g":948,"v":0.87},{"g":950,"v":0.87},{"g":952,"v":0.87},{"g":954,"v":0.87},{"g":956,"v":0.87},{"g":958,"v":0.87},{"g":960,"v":0.87},{"g":962,"v":0.87},{"g":964,"v":0.87},{"g":966,"v":0.87},{"g":968,"v":0.87},{"g":970,"v":0.87},{"g":972,"v":0.87},{"g":974,"v":0.87},{"g":976,"v":0.87},{"g":978,"v":0.87},{"g":980,"v":0.87},{"g":982,"v":0.87},{"g":984,"v":0.87},{"g":986,"v":0.87},{"g":988,"v":0.87},{"g":990,"v":0.87},{"g":992,"v":0.87},{"g":994,"v":0.87},{"g":996,"v":0.87},{"g":998,"v":0.87},{"g":1000,"v":0.87}],
"magenta": [{"g":0,"v":5.93},{"g":1,"v":4.65},{"g":2,"v":3.89},{"g":3,"v":3.89},{"g":4,"v":3.72},{"g":5,"v":3.45},{"g":6,"v":3.89},{"g":7,"v":3.45},{"g":8,"v":3.85},{"g":9,"v":3.74},{"g":10,"v":3.64},{"g":11,"v":3.89},{"g":12,"v":3.74},{"g":13,"v":3.16},{"g":14,"v":3.16},{"g":15,"v":3.16},{"g":16,"v":3.16},{"g":17,"v":3.38},{"g":18,"v":3.16},{"g":19,"v":2.89},{"g":20,"v":2.28},{"g":21,"v":2.27},{"g":22,"v":2.27},{"g":23,"v":2.26},{"g":24,"v":2.26},{"g":25,"v":2.26},{"g":26,"v":2.2},{"g":27,"v":2.2},{"g":28,"v":2.2},{"g":29,"v":2.16},{"g":30,"v":2.15},
{"g":32,"v":2.13},{"g":34,"v":2.13},{"g":36,"v":2.13},{"g":38,"v":2.11},{"g":40,"v":2.11},
{"g":42,"v":2.09},{"g":44,"v":2.09},{"g":46,"v":2.09},{"g":48,"v":2.09},{"g":50,"v":2.09},{"g":52,"v":2.09},{"g":54,"v":2.09},{"g":56,"v":2.09},{"g":58,"v":2.09},{"g":60,"v":2.09},{"g":62,"v":2.09},{"g":64,"v":2.09},{"g":66,"v":2.09},{"g":68,"v":2.09},{"g":70,"v":2.09},{"g":72,"v":2.09},{"g":74,"v":2.09},{"g":76,"v":2.09},{"g":78,"v":2.09},{"g":80,"v":2.09},{"g":82,"v":2.09},{"g":84,"v":2.09},{"g":86,"v":2.09},{"g":88,"v":2.09},{"g":90,"v":2.09},{"g":92,"v":2.09},{"g":94,"v":2.09},{"g":96,"v":2.09},{"g":98,"v":2.09},{"g":100,"v":2.09},{"g":102,"v":2.09},{"g":104,"v":2.09},{"g":106,"v":2.09},{"g":108,"v":2.09},{"g":110,"v":2.09},{"g":112,"v":2.09},{"g":114,"v":2.09},{"g":116,"v":2.09},{"g":118,"v":2.09},{"g":120,"v":2.09},{"g":122,"v":2.09},{"g":124,"v":2.09},{"g":126,"v":2.09},{"g":128,"v":2.09},{"g":130,"v":2.09},{"g":132,"v":2.09},{"g":134,"v":2.09},{"g":136,"v":2.09},{"g":138,"v":2.09},{"g":140,"v":2.09},{"g":142,"v":2.09},{"g":144,"v":2.09},{"g":146,"v":2.09},{"g":148,"v":2.09},{"g":150,"v":2.09},{"g":152,"v":2.09},{"g":154,"v":2.09},{"g":156,"v":2.09},{"g":158,"v":2.09},{"g":160,"v":2.09},{"g":162,"v":2.09},{"g":164,"v":2.09},{"g":166,"v":2.09},{"g":168,"v":2.09},{"g":170,"v":2.09},{"g":172,"v":2.09},{"g":174,"v":2.09},{"g":176,"v":2.09},{"g":178,"v":2.09},{"g":180,"v":2.09},{"g":182,"v":2.09},{"g":184,"v":2.09},{"g":186,"v":2.09},{"g":188,"v":2.09},{"g":190,"v":2.09},{"g":192,"v":2.09},{"g":194,"v":2.09},{"g":196,"v":2.09},{"g":198,"v":2.09},{"g":200,"v":2.09},{"g":202,"v":2.09},{"g":204,"v":2.09},{"g":206,"v":2.09},{"g":208,"v":2.09},{"g":210,"v":2.09},{"g":212,"v":2.09},{"g":214,"v":2.09},{"g":216,"v":2.09},{"g":218,"v":2.09},{"g":220,"v":2.09},{"g":222,"v":2.09},{"g":224,"v":2.09},{"g":226,"v":2.09},{"g":228,"v":2.09},{"g":230,"v":2.09},{"g":232,"v":2.09},{"g":234,"v":2.09},{"g":236,"v":2.09},{"g":238,"v":2.09},{"g":240,"v":2.09},{"g":242,"v":2.09},{"g":244,"v":2.09},{"g":246,"v":2.09},{"g":248,"v":2.09},{"g":250,"v":2.09},{"g":252,"v":2.09},{"g":254,"v":2.09},{"g":256,"v":2.09},{"g":258,"v":2.09},{"g":260,"v":2.09},{"g":262,"v":2.09},{"g":264,"v":2.09},{"g":266,"v":2.09},{"g":268,"v":2.09},{"g":270,"v":2.09},{"g":272,"v":2.09},{"g":274,"v":2.09},{"g":276,"v":2.09},{"g":278,"v":2.09},{"g":280,"v":2.09},{"g":282,"v":2.09},{"g":284,"v":2.09},{"g":286,"v":2.09},{"g":288,"v":2.09},{"g":290,"v":2.09},{"g":292,"v":2.09},{"g":294,"v":2.09},{"g":296,"v":2.09},{"g":298,"v":2.09},{"g":300,"v":2.09},{"g":302,"v":2.09},{"g":304,"v":2.09},{"g":306,"v":2.09},{"g":308,"v":2.09},{"g":310,"v":2.09},{"g":312,"v":2.09},{"g":314,"v":2.09},{"g":316,"v":2.09},{"g":318,"v":2.09},{"g":320,"v":2.09},{"g":322,"v":2.09},{"g":324,"v":2.09},{"g":326,"v":2.09},{"g":328,"v":2.09},{"g":330,"v":2.09},{"g":332,"v":2.09},{"g":334,"v":2.09},{"g":336,"v":2.09},{"g":338,"v":2.09},{"g":340,"v":2.09},{"g":342,"v":2.09},{"g":344,"v":2.09},{"g":346,"v":2.09},{"g":348,"v":2.09},{"g":350,"v":2.09},{"g":352,"v":2.09},{"g":354,"v":2.09},{"g":356,"v":2.09},{"g":358,"v":2.09},{"g":360,"v":2.09},{"g":362,"v":2.09},{"g":364,"v":2.09},{"g":366,"v":2.09},{"g":368,"v":2.09},{"g":370,"v":2.09},{"g":372,"v":2.09},{"g":374,"v":2.09},{"g":376,"v":2.09},{"g":378,"v":2.09},{"g":380,"v":2.09},{"g":382,"v":2.09},{"g":384,"v":2.09},{"g":386,"v":2.09},{"g":388,"v":2.09},{"g":390,"v":2.09},{"g":392,"v":2.09},{"g":394,"v":2.09},{"g":396,"v":2.09},{"g":398,"v":2.09},{"g":400,"v":2.09},{"g":402,"v":2.09},{"g":404,"v":2.09},{"g":406,"v":2.09},{"g":408,"v":2.09},{"g":410,"v":2.09},{"g":412,"v":2.09},{"g":414,"v":2.09},{"g":416,"v":2.09},{"g":418,"v":2.09},{"g":420,"v":2.09},{"g":422,"v":2.09},{"g":424,"v":2.09},{"g":426,"v":2.09},{"g":428,"v":2.09},{"g":430,"v":2.09},{"g":432,"v":2.09},{"g":434,"v":2.09},{"g":436,"v":2.09},{"g":438,"v":2.09},{"g":440,"v":2.09},{"g":442,"v":2.09},{"g":444,"v":2.09},{"g":446,"v":2.09},{"g":448,"v":2.09},{"g":450,"v":2.09},{"g":452,"v":2.09},{"g":454,"v":2.09},{"g":456,"v":2.09},{"g":458,"v":2.09},{"g":460,"v":2.09},{"g":462,"v":2.09},{"g":464,"v":2.09},{"g":466,"v":2.09},{"g":468,"v":2.09},{"g":470,"v":2.09},{"g":472,"v":2.09},{"g":474,"v":2.09},{"g":476,"v":2.09},{"g":478,"v":2.09},{"g":480,"v":2.09},{"g":482,"v":2.09},{"g":484,"v":2.09},{"g":486,"v":2.09},{"g":488,"v":2.09},{"g":490,"v":2.09},{"g":492,"v":2.09},{"g":494,"v":2.09},{"g":496,"v":2.09},{"g":498,"v":2.09},{"g":500,"v":2.09},{"g":502,"v":2.09},{"g":504,"v":2.09},{"g":506,"v":2.09},{"g":508,"v":2.09},{"g":510,"v":2.09},{"g":512,"v":2.09},{"g":514,"v":2.09},{"g":516,"v":2.09},{"g":518,"v":2.09},{"g":520,"v":2.09},{"g":522,"v":2.09},{"g":524,"v":2.09},{"g":526,"v":2.09},{"g":528,"v":2.09},{"g":530,"v":2.09},{"g":532,"v":2.09},{"g":534,"v":2.09},{"g":536,"v":2.09},{"g":538,"v":2.09},{"g":540,"v":2.09},{"g":542,"v":2.09},{"g":544,"v":2.09},{"g":546,"v":2.09},{"g":548,"v":2.09},{"g":550,"v":2.09},{"g":552,"v":2.09},{"g":554,"v":2.09},{"g":556,"v":2.09},{"g":558,"v":2.09},{"g":560,"v":2.09},{"g":562,"v":2.09},{"g":564,"v":2.09},{"g":566,"v":2.09},{"g":568,"v":2.09},{"g":570,"v":2.09},{"g":572,"v":2.09},{"g":574,"v":2.09},{"g":576,"v":2.09},{"g":578,"v":2.09},{"g":580,"v":2.09},{"g":582,"v":2.09},{"g":584,"v":2.09},{"g":586,"v":2.09},{"g":588,"v":2.09},{"g":590,"v":2.09},{"g":592,"v":2.09},{"g":594,"v":2.09},{"g":596,"v":2.09},{"g":598,"v":2.09},{"g":600,"v":2.09},{"g":602,"v":2.09},{"g":604,"v":2.09},{"g":606,"v":2.09},{"g":608,"v":2.09},{"g":610,"v":2.09},{"g":612,"v":2.09},{"g":614,"v":2.09},{"g":616,"v":2.09},{"g":618,"v":2.09},{"g":620,"v":2.09},{"g":622,"v":2.09},{"g":624,"v":2.09},{"g":626,"v":2.09},{"g":628,"v":2.09},{"g":630,"v":2.09},{"g":632,"v":2.09},{"g":634,"v":2.09},{"g":636,"v":2.09},{"g":638,"v":2.09},{"g":640,"v":2.09},{"g":642,"v":2.09},{"g":644,"v":2.09},{"g":646,"v":2.09},{"g":648,"v":2.09},{"g":650,"v":2.09},{"g":652,"v":2.09},{"g":654,"v":2.09},{"g":656,"v":2.09},{"g":658,"v":2.09},{"g":660,"v":2.09},{"g":662,"v":2.09},{"g":664,"v":2.09},{"g":666,"v":2.09},{"g":668,"v":2.09},{"g":670,"v":2.09},{"g":672,"v":2.09},{"g":674,"v":2.09},{"g":676,"v":2.09},{"g":678,"v":2.09},{"g":680,"v":2.09},{"g":682,"v":2.09},{"g":684,"v":2.09},{"g":686,"v":2.09},{"g":688,"v":2.09},{"g":690,"v":2.09},{"g":692,"v":2.09},{"g":694,"v":2.09},{"g":696,"v":2.09},{"g":698,"v":2.09},{"g":700,"v":2.09},{"g":702,"v":2.09},{"g":704,"v":2.09},{"g":706,"v":2.09},{"g":708,"v":2.09},{"g":710,"v":2.09},{"g":712,"v":2.09},{"g":714,"v":2.09},{"g":716,"v":2.09},{"g":718,"v":2.09},{"g":720,"v":2.09},{"g":722,"v":2.09},{"g":724,"v":2.09},{"g":726,"v":2.09},{"g":728,"v":2.09},{"g":730,"v":2.09},{"g":732,"v":2.09},{"g":734,"v":2.09},{"g":736,"v":2.09},{"g":738,"v":2.09},{"g":740,"v":2.09},{"g":742,"v":2.09},{"g":744,"v":2.09},{"g":746,"v":2.09},{"g":748,"v":2.09},{"g":750,"v":2.09},{"g":752,"v":2.09},{"g":754,"v":2.09},{"g":756,"v":2.09},{"g":758,"v":2.09},{"g":760,"v":2.09},{"g":762,"v":2.09},{"g":764,"v":2.09},{"g":766,"v":2.09},{"g":768,"v":2.09},{"g":770,"v":2.09},{"g":772,"v":2.09},{"g":774,"v":2.09},{"g":776,"v":2.09},{"g":778,"v":2.09},{"g":780,"v":2.09},{"g":782,"v":2.09},{"g":784,"v":2.09},{"g":786,"v":2.09},{"g":788,"v":2.09},{"g":790,"v":2.09},{"g":792,"v":2.09},{"g":794,"v":2.09},{"g":796,"v":2.09},{"g":798,"v":2.09},{"g":800,"v":2.09},{"g":802,"v":2.09},{"g":804,"v":2.09},{"g":806,"v":2.09},{"g":808,"v":2.09},{"g":810,"v":2.09},{"g":812,"v":2.09},{"g":814,"v":2.09},{"g":816,"v":2.09},{"g":818,"v":2.09},{"g":820,"v":2.09},{"g":822,"v":2.09},{"g":824,"v":2.09},{"g":826,"v":2.09},{"g":828,"v":2.09},{"g":830,"v":2.09},{"g":832,"v":2.09},{"g":834,"v":2.09},{"g":836,"v":2.09},{"g":838,"v":2.09},{"g":840,"v":2.09},{"g":842,"v":2.09},{"g":844,"v":2.09},{"g":846,"v":2.09},{"g":848,"v":2.09},{"g":850,"v":2.09},{"g":852,"v":2.09},{"g":854,"v":2.09},{"g":856,"v":2.09},{"g":858,"v":2.09},{"g":860,"v":2.09},{"g":862,"v":2.09},{"g":864,"v":2.09},{"g":866,"v":2.09},{"g":868,"v":2.09},{"g":870,"v":2.09},{"g":872,"v":2.09},{"g":874,"v":2.09},{"g":876,"v":2.09},{"g":878,"v":2.09},{"g":880,"v":2.09},{"g":882,"v":2.09},{"g":884,"v":2.09},{"g":886,"v":2.09},{"g":888,"v":2.09},{"g":890,"v":2.09},{"g":892,"v":2.09},{"g":894,"v":2.09},{"g":896,"v":2.09},{"g":898,"v":2.09},{"g":900,"v":2.09},{"g":902,"v":2.09},{"g":904,"v":2.09},{"g":906,"v":2.09},{"g":908,"v":2.09},{"g":910,"v":2.09},{"g":912,"v":2.09},{"g":914,"v":2.09},{"g":916,"v":2.09},{"g":918,"v":2.09},{"g":920,"v":2.09},{"g":922,"v":2.09},{"g":924,"v":2.09},{"g":926,"v":2.09},{"g":928,"v":2.09},{"g":930,"v":2.09},{"g":932,"v":2.09},{"g":934,"v":2.09},{"g":936,"v":2.09},{"g":938,"v":2.09},{"g":940,"v":2.09},{"g":942,"v":2.09},{"g":944,"v":2.09},{"g":946,"v":2.09},{"g":948,"v":2.09},{"g":950,"v":2.09},{"g":952,"v":2.09},{"g":954,"v":2.09},{"g":956,"v":2.09},{"g":958,"v":2.09},{"g":960,"v":2.09},{"g":962,"v":2.09},{"g":964,"v":2.09},{"g":966,"v":2.09},{"g":968,"v":2.09},{"g":970,"v":2.09},{"g":972,"v":2.09},{"g":974,"v":2.09},{"g":976,"v":2.09},{"g":978,"v":2.09},{"g":980,"v":2.09},{"g":982,"v":2.09},{"g":984,"v":2.09},{"g":986,"v":2.09},{"g":988,"v":2.09},{"g":990,"v":2.09},{"g":992,"v":2.09},{"g":994,"v":2.09},{"g":996,"v":2.09},{"g":998,"v":2.09},{"g":1000,"v":2.09}]
},
"layer": [
  {
    "encoding": {
      "x": {"field": "g", "type": "quantitative", "scale": {"domain": [0, 1000], "nice": false}, "axis": {"values": [0,100,200,300,400,500,600,700,800,900,1000], "format": "d", "labelPadding": 13, "title": "Genaracija No.", "titleY": 31, "titleBaseline": "alphabetic"}},
      "y": {"field": "v", "type": "quantitative", "scale": {"domain": [0, 7], "nice": false}, "axis": {"values": [0,1,2,3,4,5,6,7], "format": "d", "labelPadding": 14, "title": "Dobrota", "titleX": -19, "titleY": 184.5, "titleAngle": -90, "titleBaseline": "alphabetic", "titleAlign": "center"}}
    },
    "layer": [
      {"data": {"name": "blue"}, "mark": {"type": "line", "strokeWidth": 0.9, "point": {"filled": false, "size": 42, "strokeWidth": 1.2}},
       "encoding": {"color": {"datum": "Populacija 1, put", "scale": {"domain": ["Populacija 1, put", "Populacija 2, put", "Populacija 1, kut", "Populacija 2, kut"], "range": ["#0000ff", "#00ff00", "#000000", "#ff00ff"]},
         "legend": {"orient": "none", "legendX": 630, "legendY": 9, "title": null, "strokeColor": "black", "fillColor": "white", "padding": 5, "labelFontSize": 13, "labelFont": "Liberation Sans", "labelColor": "black", "symbolType": "M-2.3,0H-0.64A0.64,0.64 0 1,1 0.64,0A0.64,0.64 0 1,1 -0.64,0M0.64,0H2.3", "symbolSize": 100, "symbolOffset": 6.5, "symbolStrokeWidth": 0.9, "symbolFillColor": "transparent", "rowPadding": 2.3, "labelOffset": 11.7, "cornerRadius": 0}}}},
      {"data": {"name": "green"}, "mark": {"type": "line", "strokeWidth": 0.9, "point": {"filled": false, "size": 42, "strokeWidth": 1.2}},
       "encoding": {"color": {"datum": "Populacija 2, put"}}},
      {"data": {"name": "black"}, "mark": {"type": "line", "strokeWidth": 0.9, "point": {"filled": false, "size": 42, "strokeWidth": 1.2}},
       "encoding": {"color": {"datum": "Populacija 1, kut"}}},
      {"data": {"name": "magenta"}, "mark": {"type": "line", "strokeWidth": 0.9, "point": {"filled": false, "size": 42, "strokeWidth": 1.2}},
       "encoding": {"color": {"datum": "Populacija 2, kut"}}}
    ]
  },
  {
    "data": {"name": "blue"},
    "mark": {"type": "point", "opacity": 0},
    "encoding": {
      "x": {"field": "g", "type": "quantitative", "scale": {"domain": [0, 1000], "nice": false}, "axis": {"orient": "top", "values": [0,100,200,300,400,500,600,700,800,900,1000], "labels": false, "title": null}},
      "y": {"field": "v", "type": "quantitative", "scale": {"domain": [0, 7], "nice": false}, "axis": {"orient": "right", "values": [0,1,2,3,4,5,6,7], "labels": false, "title": null}}
    }
  }
],
"resolve": {"axis": {"x": "independent", "y": "independent"}}
}
